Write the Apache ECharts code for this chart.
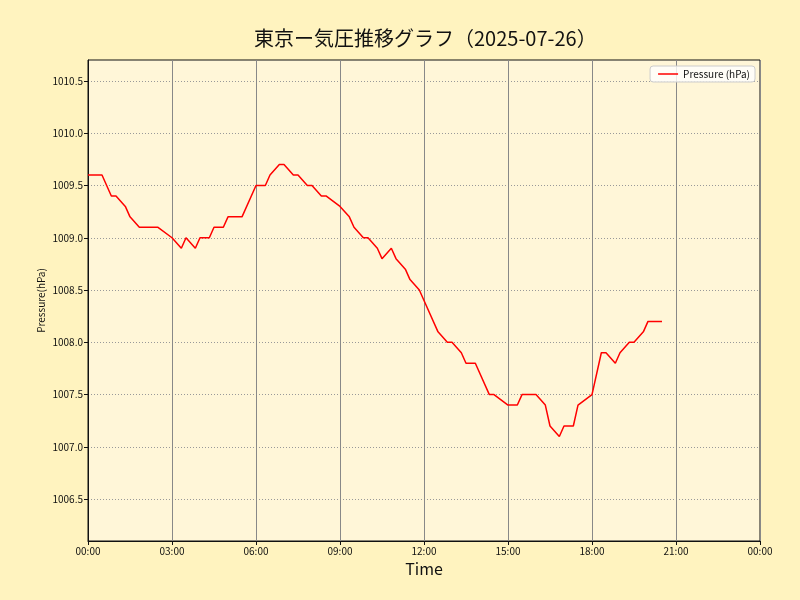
<!DOCTYPE html>
<html>
<head>
<meta charset="utf-8">
<script src="https://cdn.jsdelivr.net/npm/echarts@6/dist/echarts.min.js"></script>
<style>html,body{margin:0;padding:0;background:#fff3bf;}#c{width:800px;height:600px;}</style>
</head>
<body>
<div id="c"></div>
<script>
const times = ["00:00","00:30","00:50","01:00","01:20","01:30","01:50","02:30","03:00","03:20","03:30","03:50","04:00","04:20","04:30","04:50","05:00","05:30","06:00","06:20","06:30","06:50","07:00","07:20","07:30","07:50","08:00","08:20","08:30","09:00","09:20","09:30","09:50","10:00","10:20","10:30","10:50","11:00","11:20","11:30","11:50","12:00","12:30","12:50","13:00","13:20","13:30","13:50","14:20","14:30","15:00","15:20","15:30","16:00","16:20","16:30","16:50","17:00","17:20","17:30","18:00","18:20","18:30","18:50","19:00","19:20","19:30","19:50","20:00","20:30"];
const pressure = [1009.6,1009.6,1009.4,1009.4,1009.3,1009.2,1009.1,1009.1,1009.0,1008.9,1009.0,1008.9,1009.0,1009.0,1009.1,1009.1,1009.2,1009.2,1009.5,1009.5,1009.6,1009.7,1009.7,1009.6,1009.6,1009.5,1009.5,1009.4,1009.4,1009.3,1009.2,1009.1,1009.0,1009.0,1008.9,1008.8,1008.9,1008.8,1008.7,1008.6,1008.5,1008.4,1008.1,1008.0,1008.0,1007.9,1007.8,1007.8,1007.5,1007.5,1007.4,1007.4,1007.5,1007.5,1007.4,1007.2,1007.1,1007.2,1007.2,1007.4,1007.5,1007.9,1007.9,1007.8,1007.9,1008.0,1008.0,1008.1,1008.2,1008.2];
const yTicks = [1006.5,1007.0,1007.5,1008.0,1008.5,1009.0,1009.5,1010.0,1010.5];
const xTicks = [0,3,6,9,12,15,18,21,24];

const toHours = s => { const p = s.split(':'); return +p[0] + (+p[1]) / 60; };
const seriesData = times.map((t, i) => [toHours(t), pressure[i]]);
const pad = n => (n < 10 ? '0' : '') + n;
const font = '"Noto Sans CJK JP", "Noto Sans", sans-serif';

const chart = echarts.init(document.getElementById('c'), null, {renderer: 'canvas'});
chart.setOption({
  backgroundColor: '#fff3bf',
  animation: false,
  title: {
    text: '東京ー気圧推移グラフ（2025-07-26）',
    left: 249, top: 23,
    textStyle: {fontFamily: font, fontSize: 20, fontWeight: 'normal', color: '#111'}
  },
  legend: {
    right: 45, top: 66,
    data: ['Pressure (hPa)'],
    icon: 'rect', itemWidth: 20, itemHeight: 1.5, itemGap: 6,
    backgroundColor: 'rgba(255,255,255,0.8)', borderColor: '#ccc', borderWidth: 1, borderRadius: 3,
    padding: [3, 5, 3, 8],
    textStyle: {fontFamily: font, fontSize: 10, color: '#111'}
  },
  grid: {left: 88, right: 40, top: 60, bottom: 59, show: true, backgroundColor: '#fff6d8', borderWidth: 1, borderColor: '#111'},
  xAxis: {
    type: 'value', min: 0, max: 24, interval: 3,
    name: 'Time', nameLocation: 'middle', nameGap: 20, nameMoveOverlap: false,
    nameTextStyle: {fontFamily: font, fontSize: 16, color: '#111'},
    axisLine: {show: true, onZero: false, lineStyle: {color: '#111', width: 1}},
    axisTick: {show: true, length: 4, lineStyle: {color: '#111'}},
    axisLabel: {fontFamily: font, fontSize: 10, color: '#111', margin: 5,
      formatter: v => pad(v % 24) + ':00'},
    splitLine: {show: true, lineStyle: {color: '#888', width: 1, type: 'solid'}}
  },
  yAxis: {
    type: 'value', min: 1006.1, max: 1010.7,
    name: 'Pressure(hPa)', nameLocation: 'middle', nameGap: 42, nameMoveOverlap: false,
    nameTextStyle: {fontFamily: font, fontSize: 10, color: '#111'},
    axisLine: {show: true, lineStyle: {color: '#111', width: 1}},
    axisTick: {show: true, length: 4, lineStyle: {color: '#111'}, customValues: yTicks},
    axisLabel: {fontFamily: font, fontSize: 10, color: '#111', margin: 5, customValues: yTicks,
      formatter: v => v.toFixed(1)},
    splitLine: {show: true, lineStyle: {color: '#999', width: 1, type: [1, 2]}}
  },
  series: [{
    name: 'Pressure (hPa)', type: 'line', data: seriesData,
    showSymbol: false, symbol: 'none',
    lineStyle: {color: '#ff0000', width: 1.5},
    itemStyle: {color: '#ff0000'}
  }]
});
</script>
</body>
</html>
